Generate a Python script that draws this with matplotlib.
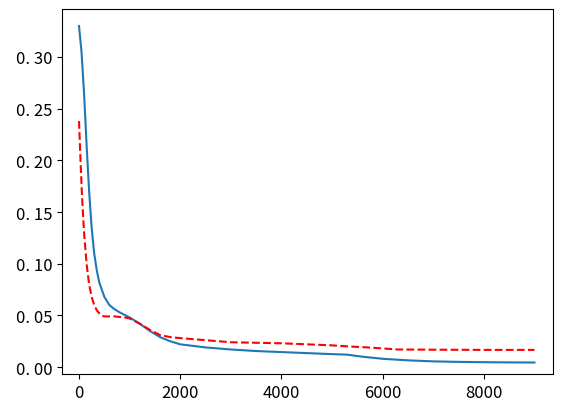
import matplotlib.pyplot as plt

plt.rcParams['font.family'] = ['Noto Sans CJK SC', 'DejaVu Sans']
plt.rcParams['font.size'] = 12

# blue solid curve
blue_x = [0, 50, 100, 150, 200, 250, 300, 350, 400, 500, 600, 700, 800, 1000, 1200, 1400, 1600, 1800, 2000,
          2500, 3000, 3500, 4000, 4500, 5000, 5300, 5600, 6000, 6500, 7000, 7500, 8000, 8500, 9000]
blue_y = [0.330, 0.305, 0.265, 0.215, 0.170, 0.135, 0.110, 0.094, 0.082, 0.068, 0.060, 0.056, 0.053, 0.048,
          0.042, 0.035, 0.029, 0.025, 0.022, 0.019, 0.017, 0.0155, 0.0145, 0.0135, 0.0125, 0.012, 0.010,
          0.008, 0.0065, 0.0055, 0.005, 0.0047, 0.0045, 0.0044]

# red dashed curve
red_x = [0, 30, 60, 100, 150, 200, 250, 300, 350, 400, 450, 500, 700, 900, 1000, 1200, 1400, 1600,
         1800, 2000, 2500, 3000, 3500, 4000, 4500, 5000, 5300, 5700, 6000, 6300, 7000, 8000, 9000]
red_y = [0.238, 0.200, 0.165, 0.130, 0.100, 0.080, 0.068, 0.060, 0.055, 0.052, 0.050, 0.049, 0.049,
         0.048, 0.047, 0.042, 0.036, 0.031, 0.029, 0.028, 0.026, 0.024, 0.0235, 0.023, 0.022,
         0.021, 0.020, 0.019, 0.018, 0.017, 0.0168, 0.0166, 0.0166]

fig = plt.figure(figsize=(5.61, 4.14), dpi=100)
ax = fig.add_axes([0.1105, 0.094, 0.875, 0.882])
ax.plot(blue_x, blue_y, color='#1f77b4')
ax.plot(red_x, red_y, color='red', linestyle='--')
ax.set_xlim(-336, 9363)
ax.set_ylim(-0.0068, 0.3465)
ax.set_yticks([0.00, 0.05, 0.10, 0.15, 0.20, 0.25, 0.30])
ax.set_yticklabels(['0. 00', '0. 05', '0. 10', '0. 15', '0. 20', '0. 25', '0. 30'])
ax.set_xticks([0, 2000, 4000, 6000, 8000])
fig.savefig('out.png')
